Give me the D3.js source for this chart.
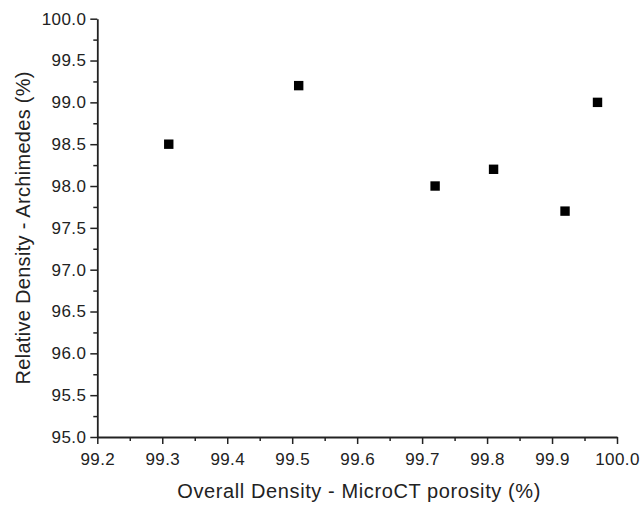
<!DOCTYPE html>
<html><head><meta charset="utf-8">
<script src="https://cdn.jsdelivr.net/npm/d3@7/dist/d3.min.js"></script>
<style>body{margin:0;background:#fff}svg{display:block}text{font-family:"Liberation Sans",Arial,sans-serif;fill:#222}</style>
</head><body><svg id="c" width="642" height="509"></svg>
<script>
const xValues = [99.31, 99.51, 99.72, 99.81, 99.92, 99.97];
const yValues = [98.5, 99.2, 98.0, 98.2, 97.7, 99.0];
const xTicks = [99.2, 99.3, 99.4, 99.5, 99.6, 99.7, 99.8, 99.9, 100.0];
const yTicks = [95.0, 95.5, 96.0, 96.5, 97.0, 97.5, 98.0, 98.5, 99.0, 99.5, 100.0];
const xTitle = "Overall Density - MicroCT porosity (%)";
const yTitle = "Relative Density - Archimedes (%)";

const svg = d3.select("#c");
const L = 97.3, R = 617, T = 18.7, B = 437;
const x = d3.scaleLinear().domain([99.2, 100.0]).range([L, R]);
const y = d3.scaleLinear().domain([95, 100]).range([B, T]);

const xMinor = d3.range(8).map(i => 99.25 + i * 0.1);
const yMinor = d3.range(10).map(i => 95.25 + i * 0.5);

// minor ticks
svg.append("g").attr("transform", `translate(0,${B})`)
  .call(d3.axisBottom(x).tickValues(xMinor).tickSize(4).tickFormat(""))
  .call(g => g.select(".domain").remove())
  .selectAll("line").attr("stroke", "#222").attr("stroke-width", 1.5);
svg.append("g").attr("transform", `translate(${L},0)`)
  .call(d3.axisLeft(y).tickValues(yMinor).tickSize(4).tickFormat(""))
  .call(g => g.select(".domain").remove())
  .selectAll("line").attr("stroke", "#222").attr("stroke-width", 1.5);

// major axes
const gx = svg.append("g").attr("transform", `translate(0,${B})`)
  .call(d3.axisBottom(x).tickValues(xTicks).tickSize(7).tickSizeOuter(0).tickPadding(8.5).tickFormat(d3.format(".1f")));
const gy = svg.append("g").attr("transform", `translate(${L},0)`)
  .call(d3.axisLeft(y).tickValues(yTicks).tickSize(7).tickSizeOuter(0).tickPadding(4).tickFormat(d3.format(".1f")));
[gx, gy].forEach(g => {
  g.attr("font-size", 17).attr("font-family", '"Liberation Sans",Arial,sans-serif');
  g.select(".domain").attr("stroke", "#222").attr("stroke-width", 1.8);
  g.selectAll(".tick line").attr("stroke", "#222").attr("stroke-width", 1.5);
  g.selectAll(".tick text").attr("fill", "#222").attr("letter-spacing", 0.4);
});

// titles
svg.append("text").attr("x", (L + R) / 2 + 2).attr("y", 497.5)
  .attr("text-anchor", "middle").attr("font-size", 20).attr("letter-spacing", 0.6).text(xTitle);
svg.append("text").attr("transform", `translate(29.5,${(T + B) / 2}) rotate(-90)`)
  .attr("text-anchor", "middle").attr("font-size", 20).attr("letter-spacing", 0.3).text(yTitle);

// points
const s = 9.4;
svg.append("g").selectAll("rect").data(xValues.map((v, i) => [v, yValues[i]]))
  .join("rect")
  .attr("x", d => x(d[0]) - s / 2).attr("y", d => y(d[1]) - s / 2)
  .attr("width", s).attr("height", s).attr("fill", "#000");
</script></body></html>
